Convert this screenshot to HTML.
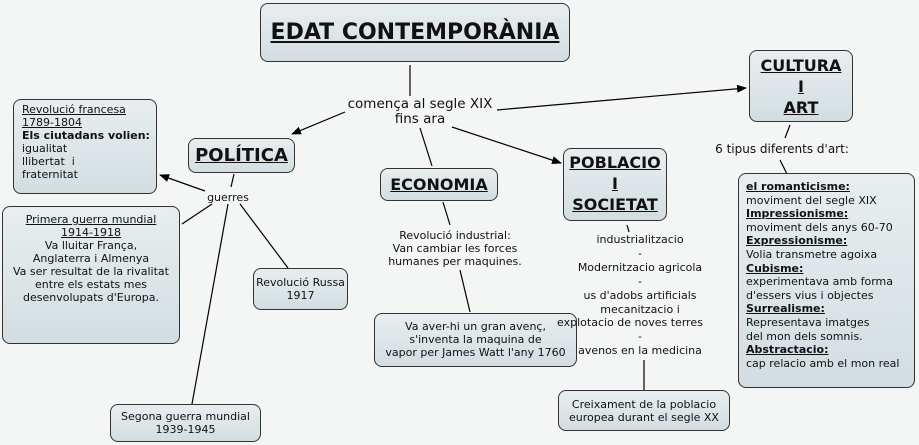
<!DOCTYPE html>
<html><head><meta charset="utf-8"><style>
body{margin:0;width:919px;height:445px;background:#f4f5f5;position:relative;overflow:hidden;font-family:"DejaVu Sans","Liberation Sans",sans-serif;color:#111}
.b{position:absolute;box-sizing:border-box;border:1.3px solid #333;border-radius:8px;background:linear-gradient(#e8eef0,#d3dde1);text-align:center;font-size:11px;line-height:13px;white-space:nowrap;overflow:hidden}
.t{position:absolute;text-align:center;font-size:11px;line-height:13px;white-space:nowrap}
.h{font-weight:bold;text-decoration:underline}
u{text-decoration:underline}
svg{position:absolute;left:0;top:0}
</style></head><body>
<svg width="919" height="445"><defs><marker id="a" markerWidth="10" markerHeight="8" refX="9" refY="4" orient="auto" markerUnits="userSpaceOnUse"><path d="M0,0L10,4L0,8z" fill="#000"/></marker></defs>
<g stroke="#000" stroke-width="1.2" fill="none">
<line x1="410" y1="65" x2="410" y2="96"/>
<line x1="345" y1="112" x2="292" y2="134" marker-end="url(#a)"/>
<line x1="497" y1="110" x2="746" y2="88" marker-end="url(#a)"/>
<line x1="420" y1="128" x2="432" y2="166"/>
<line x1="452" y1="127" x2="561" y2="163" marker-end="url(#a)"/>
<line x1="234" y1="174" x2="231" y2="187"/>
<line x1="205" y1="191" x2="160" y2="175" marker-end="url(#a)"/>
<line x1="212" y1="204" x2="182" y2="224"/>
<line x1="228" y1="204" x2="192" y2="404"/>
<line x1="240" y1="204" x2="288" y2="268"/>
<line x1="443" y1="202" x2="450" y2="225"/>
<line x1="460" y1="270" x2="470" y2="312"/>
<line x1="627" y1="225" x2="629" y2="232"/>
<line x1="644" y1="360" x2="644" y2="390"/>
<line x1="790" y1="125" x2="785" y2="138"/>
<line x1="780" y1="160" x2="787" y2="174"/>
</g></svg>
<div class="b" style="left:260px;top:3px;width:310px;height:59px;font-size:22px;line-height:57px"><span class="h">EDAT CONTEMPORÀNIA</span></div>
<div class="t" style="left:320px;top:97px;width:200px;font-size:13.5px;line-height:15px">comença al segle XIX<br>fins ara</div>
<div class="b" style="left:188px;top:138px;width:107px;height:35px;font-size:18px;line-height:33px"><span class="h">POLÍTICA</span></div>
<div class="b" style="left:13px;top:99px;width:144px;height:95px;text-align:left;padding:3px 0 0 8px"><u>Revolució francesa </u><br><u>1789-1804</u><br><b>Els ciutadans volien:</b><br>igualitat<br>llibertat &nbsp;i<br>fraternitat</div>
<div class="t" style="left:198px;top:191px;width:60px">guerres</div>
<div class="b" style="left:2px;top:206px;width:178px;height:138px;padding-top:6px"><u>Primera guerra mundial</u><br><u>1914-1918</u><br>Va lluitar França,<br>Anglaterra i Almenya<br>Va ser resultat de la rivalitat<br>entre els estats mes<br>desenvolupats d'Europa.</div>
<div class="b" style="left:253px;top:268px;width:95px;height:42px;padding-top:7px">Revolució Russa<br>1917</div>
<div class="b" style="left:110px;top:404px;width:151px;height:38px;padding-top:5px">Segona guerra mundial<br>1939-1945</div>
<div class="b" style="left:380px;top:168px;width:118px;height:33px;font-size:16px;line-height:31px"><span class="h">ECONOMIA</span></div>
<div class="t" style="left:370px;top:229px;width:170px">Revolució industrial:<br>Van cambiar les forces<br>humanes per maquines.</div>
<div class="b" style="left:374px;top:313px;width:203px;height:54px;padding-top:6px">Va aver-hi un gran avenç,<br>s'inventa la maquina de<br>vapor per James Watt l'any 1760</div>
<div class="b" style="left:563px;top:148px;width:104px;height:73px;font-size:16px;line-height:21px;padding-top:3px"><span class="h">POBLACIO</span><br><span class="h">I</span><br><span class="h">SOCIETAT</span></div>
<div class="t" style="left:565px;top:233px;width:150px;line-height:13.9px">industrialitzacio<br>-<br>Modernitzacio agricola<br>-<br>us d'adobs artificials<br>mecanitzacio i<br><span style="margin-left:-20px">explotacio de noves terres</span><br>-<br>avenos en la medicina</div>
<div class="b" style="left:558px;top:390px;width:172px;height:41px;padding-top:7px">Creixament de la poblacio<br>europea durant el segle XX</div>
<div class="b" style="left:749px;top:50px;width:104px;height:72px;font-size:16px;line-height:21px;padding-top:4px"><span class="h">CULTURA</span><br><span class="h">I</span><br><span class="h">ART</span></div>
<div class="t" style="left:702px;top:143px;width:160px;font-size:12px">6 tipus diferents d'art:</div>
<div class="b" style="left:738px;top:173px;width:177px;height:215px;text-align:left;padding:6px 0 0 7px;line-height:13.6px"><span class="h">el romanticisme:</span><br>moviment del segle XIX<br><span class="h">Impressionisme:</span><br>moviment dels anys 60-70<br><span class="h">Expressionisme:</span><br>Volia transmetre agoixa<br><span class="h">Cubisme:</span><br>experimentava amb forma<br>d'essers vius i objectes<br><span class="h">Surrealisme:</span><br>Representava imatges<br>del mon dels somnis.<br><span class="h">Abstractacio:</span><br>cap relacio amb el mon real</div>
</body></html>
